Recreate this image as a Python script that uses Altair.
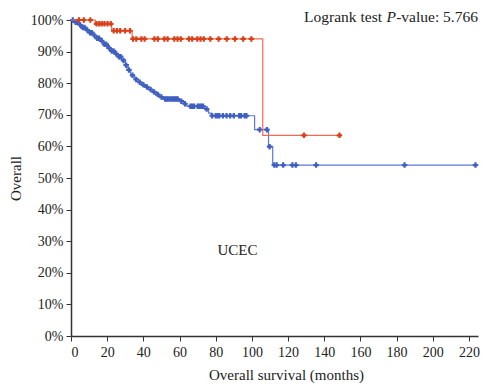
import altair as alt
import pandas as pd

# Kaplan-Meier step points (time in months, survival in %)
red_t = [0, 13.4, 22.5, 33.8, 106.0, 148.4]
red_s = [100, 98.8, 96.6, 94.0, 63.5, 63.5]
red_cens = [4.4, 7.1, 10.7, 14.1, 15.6, 17.0, 18.5, 20.2, 22.0, 23.6, 25.4, 27.2,
            29.9, 32.6, 34.3, 36.1, 38.9, 40.7, 46.1, 48.0, 51.6, 53.4, 57.1, 58.9,
            60.7, 65.2, 67.0, 69.8, 71.6, 73.4, 77.0, 81.6, 86.1, 90.6, 95.2, 99.7,
            128.8, 148.4]

blue_t = [0, 2, 4, 6, 8, 10, 12, 14, 16, 18, 20, 22, 24, 26, 28, 30, 31.5, 33,
          35, 37, 39, 41, 43, 45, 47, 49, 51, 60, 62, 64, 74, 76, 77.5, 101.5,
          109.2, 111.5, 224.5]
blue_s = [100, 99.3, 98.5, 97.6, 96.8, 96.0, 95.1, 94.2, 93.4, 92.3, 91.2, 90.2,
          89.3, 88.4, 87.2, 85.7, 84.2, 82.5, 81.2, 80.3, 79.5, 78.8, 78.0, 77.2,
          76.4, 75.6, 75.0, 74.3, 73.5, 72.7, 71.8, 70.5, 69.7, 65.3, 59.9, 54.1,
          54.1]
blue_cens = [1, 2.5, 3.5, 5, 6.5, 7.5, 9, 10.5, 11.5, 13, 14.5, 15.5, 17, 18.5,
             19.5, 21, 22.5, 23.5, 25, 26.5, 27.5, 29, 30.5, 32, 34, 36, 38, 40,
             42, 44, 46, 48, 50, 52, 53, 54, 55, 56, 57, 58, 59, 61, 63, 66, 67,
             68, 70, 71, 72, 73, 75, 78, 80, 81, 82, 84, 86, 88, 90, 93, 94, 96,
             97, 104.3, 108.3, 109.8, 112.4, 113.7, 117.3, 122.4, 124.3, 135.5,
             184.4, 223.6]

x_ticks = list(range(0, 221, 20))
y_ticks = list(range(0, 101, 10))


def surv_at(ts, ss, c):
    v = ss[0]
    for t, s in zip(ts, ss):
        if t <= c:
            v = s
    return v


red_line = pd.DataFrame({"t": red_t, "s": red_s})
blue_line = pd.DataFrame({"t": blue_t, "s": blue_s})
red_pts = pd.DataFrame({"t": red_cens, "s": [surv_at(red_t, red_s, c) for c in red_cens]})
blue_pts = pd.DataFrame({"t": blue_cens, "s": [surv_at(blue_t, blue_s, c) for c in blue_cens]})

FONT = "Liberation Serif"
W, H = 407, 316
xs = alt.Scale(domain=[0, 225], nice=False)
ys = alt.Scale(domain=[0, 100], nice=False)

X = alt.X("t:Q", scale=xs, axis=alt.Axis(values=x_ticks, title="Overall survival (months)",
                                          titlePadding=8, labelPadding=4,
                                          titleX=215, titleAlign="center"))
Y = alt.Y("s:Q", scale=ys, axis=alt.Axis(values=y_ticks, title="Overall",
                                          labelExpr="datum.value + '%'",
                                          titlePadding=7, labelPadding=3))

plus = "M-1,0L1,0M0,-1L0,1"

def line(df, color):
    return alt.Chart(df).mark_line(interpolate="step-after", color=color,
                                   strokeWidth=1.2).encode(x=X, y=Y)

def pts(df, color):
    return alt.Chart(df).mark_point(shape=plus, filled=False, color=color,
                                    strokeWidth=2.2, size=30, opacity=1).encode(x=X, y=Y)

ucec = alt.Chart(pd.DataFrame({"t": [92], "s": [27.2], "lab": ["UCEC"]})).mark_text(
    font=FONT, fontSize=15, color="#222").encode(x=X, y=Y, text="lab:N")

ann_y = 2
ann1 = alt.Chart(pd.DataFrame({"lab": ["Logrank test"]})).mark_text(
    font=FONT, fontSize=15.5, align="right", baseline="alphabetic", color="#222").encode(
    x=alt.value(311), y=alt.value(ann_y), text="lab:N")
ann2 = alt.Chart(pd.DataFrame({"lab": ["P"]})).mark_text(
    font=FONT, fontSize=15.5, fontStyle="italic", align="right", baseline="alphabetic",
    color="#222").encode(x=alt.value(325), y=alt.value(ann_y), text="lab:N")
ann3 = alt.Chart(pd.DataFrame({"lab": ["-value: 5.766"]})).mark_text(
    font=FONT, fontSize=15.5, align="right", baseline="alphabetic", color="#222").encode(
    x=alt.value(407), y=alt.value(ann_y), text="lab:N")

chart = alt.layer(
    line(blue_line, "#5b78d2"), pts(blue_pts, "#3e5ec2"),
    line(red_line, "#ef6a50"), pts(red_pts, "#d8401a"),
    ucec, ann1, ann2, ann3,
).properties(
    width=W, height=H, autosize="none",
    padding={"left": 63, "top": 12, "right": 2, "bottom": 47},
).configure_view(stroke=None).configure_axis(
    grid=False, domainColor="#333", domainWidth=1.5, tickColor="#333", tickSize=5,
    labelFont=FONT, labelFontSize=14, labelColor="#222",
    titleFont=FONT, titleFontSize=15, titleFontWeight="normal", titleColor="#222",
)

chart.save("out.html", embed_options={"renderer": "svg", "actions": False})
